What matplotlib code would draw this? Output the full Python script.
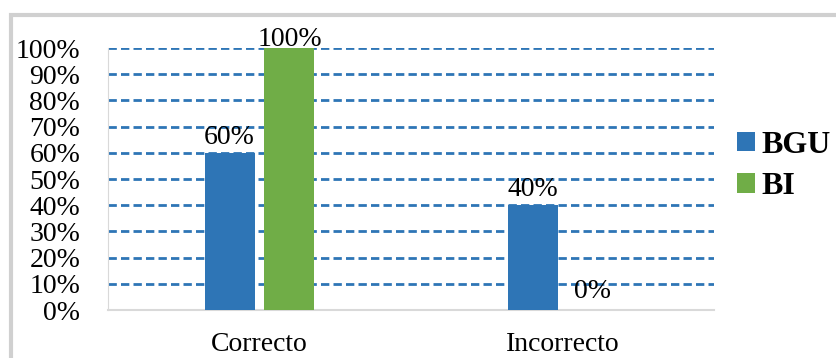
import matplotlib
matplotlib.use("Agg")
import matplotlib.pyplot as plt
from matplotlib.patches import Rectangle
import numpy as np

categories = ["Correcto", "Incorrecto"]
series_names = ["BGU", "BI"]
bgu_values = [60, 40]
bi_values = [100, 0]
colors = ["#2E75B6", "#70AD47"]
yticks = [0, 10, 20, 30, 40, 50, 60, 70, 80, 90, 100]

plt.rcParams['font.family'] = ['Liberation Serif', 'DejaVu Serif']

W, H = 836, 358
fig = plt.figure(figsize=(W/100, H/100), dpi=100)
fig.patches.append(Rectangle((11/W, -0.1), 2, 1.1 - 15/H, transform=fig.transFigure,
                             fill=False, edgecolor="#d0d0d0", linewidth=3))

ax = fig.add_axes([108/W, 1 - 310/H, (714-108)/W, (310-48)/H])
ax.set_xlim(-0.5, 1.5)
ax.set_ylim(0, 100)

x = np.arange(len(categories))
bw = 0.165
off = 0.099
for vals, name, c, o in [(bgu_values, series_names[0], colors[0], -off),
                          (bi_values, series_names[1], colors[1], off)]:
    ax.bar(x + o, vals, width=bw, color=c, label=name, zorder=3)
    for xi, v in zip(x + o, vals):
        dy = 4 if v == 0 else (-3 if v >= 100 else 2)
        ax.annotate(f"{v}%", (xi, v), xytext=(0, dy), textcoords="offset points",
                    ha="center", va="bottom", fontsize=20, zorder=4)

ax.set_yticks(yticks)
ax.set_yticklabels([f"{t}%" for t in yticks], fontsize=20)
ax.set_xticks(x)
ax.set_xticklabels(categories, fontsize=20)
ax.tick_params(axis='both', length=0)
ax.tick_params(axis='y', pad=20)
ax.tick_params(axis='x', pad=16)
ax.yaxis.grid(True, linestyle=(0, (3, 1.5)), color="#2E75B6", linewidth=2, zorder=0)
for s in ["top", "right"]:
    ax.spines[s].set_visible(False)
ax.spines["left"].set_color("#d9d9d9")
ax.spines["bottom"].set_color("#d9d9d9")
ax.spines["bottom"].set_linewidth(1.5)

fig.legend(loc="center left", bbox_to_anchor=(737/W, 1 - 166/H), frameon=False,
           prop={"weight": "bold", "size": 23}, handlelength=0.55, handleheight=0.55,
           handletextpad=0.22, labelspacing=0.4, borderaxespad=0, borderpad=0)

fig.savefig("out.png", dpi=100)
